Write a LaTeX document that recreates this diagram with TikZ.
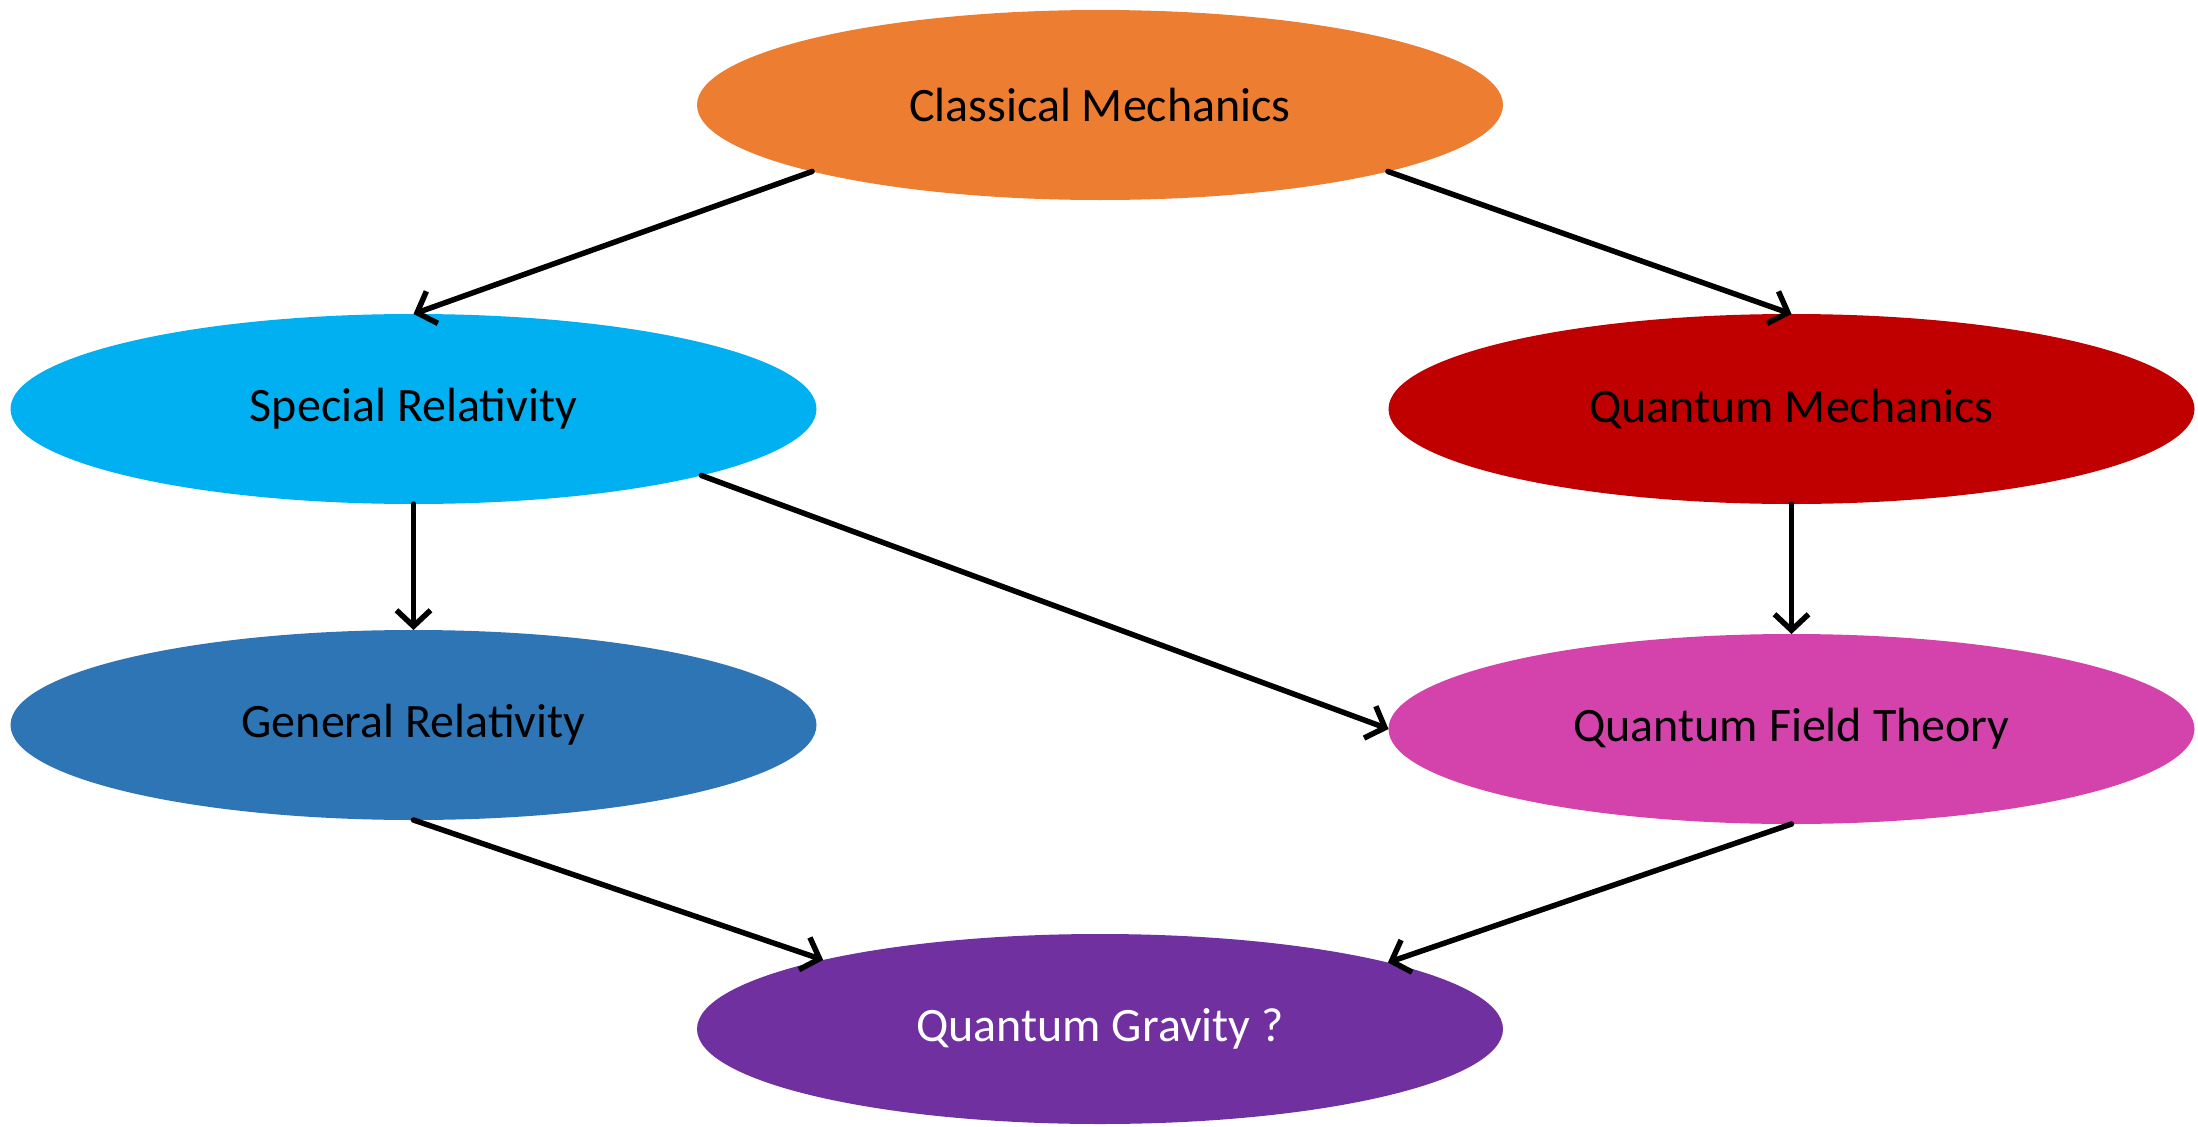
\documentclass[tikz,border=0pt]{standalone}
\usepackage{fontspec}
\setmainfont{Carlito}
\usetikzlibrary{shapes.geometric,arrows.meta}
\definecolor{cmorange}{HTML}{ED7D31}
\definecolor{srblue}{HTML}{00B0F0}
\definecolor{qmred}{HTML}{C00000}
\definecolor{grblue}{HTML}{2E75B6}
\definecolor{qftpink}{HTML}{D443AB}
\definecolor{qgpurple}{HTML}{7030A0}
\tikzset{
  topic/.style={ellipse, minimum width=806pt, minimum height=190pt, inner sep=0pt, outer sep=0pt,
    font=\fontsize{48}{58}\selectfont, text=black},
  link/.style={line width=5.5pt, line cap=round, line join=round,
    -{Straight Barb[length=16pt,width=34pt]}}
}
\begin{document}
\begin{tikzpicture}[x=1pt,y=-1pt]
\useasboundingbox (0,0) rectangle (2198,1127);
\node[topic, fill=cmorange] (cm) at (1100,105) {Classical Mechanics};
\node[topic, fill=srblue] (sr) at (413.5,409) {Special Relativity};
\node[topic, fill=qmred] (qm) at (1791.5,409) {Quantum Mechanics};
\node[topic, fill=grblue] (gr) at (413.5,725) {General Relativity};
\node[topic, fill=qftpink] (qft) at (1791.5,729) {Quantum Field Theory};
\node[topic, fill=qgpurple, text=white] (qg) at (1100,1029) {Quantum Gravity ?};
\draw[link] (cm.193.5) -- (sr.north);
\draw[link] (cm.-13.5) -- (qm.north);
\draw[link] (sr.south) -- (gr.north);
\draw[link] (sr.-13.5) -- (qft.west);
\draw[link] (qm.south) -- (qft.north);
\draw[link] (gr.south) -- (qg.166.8);
\draw[link] (qft.south) -- (qg.13.1);
\end{tikzpicture}
\end{document}
